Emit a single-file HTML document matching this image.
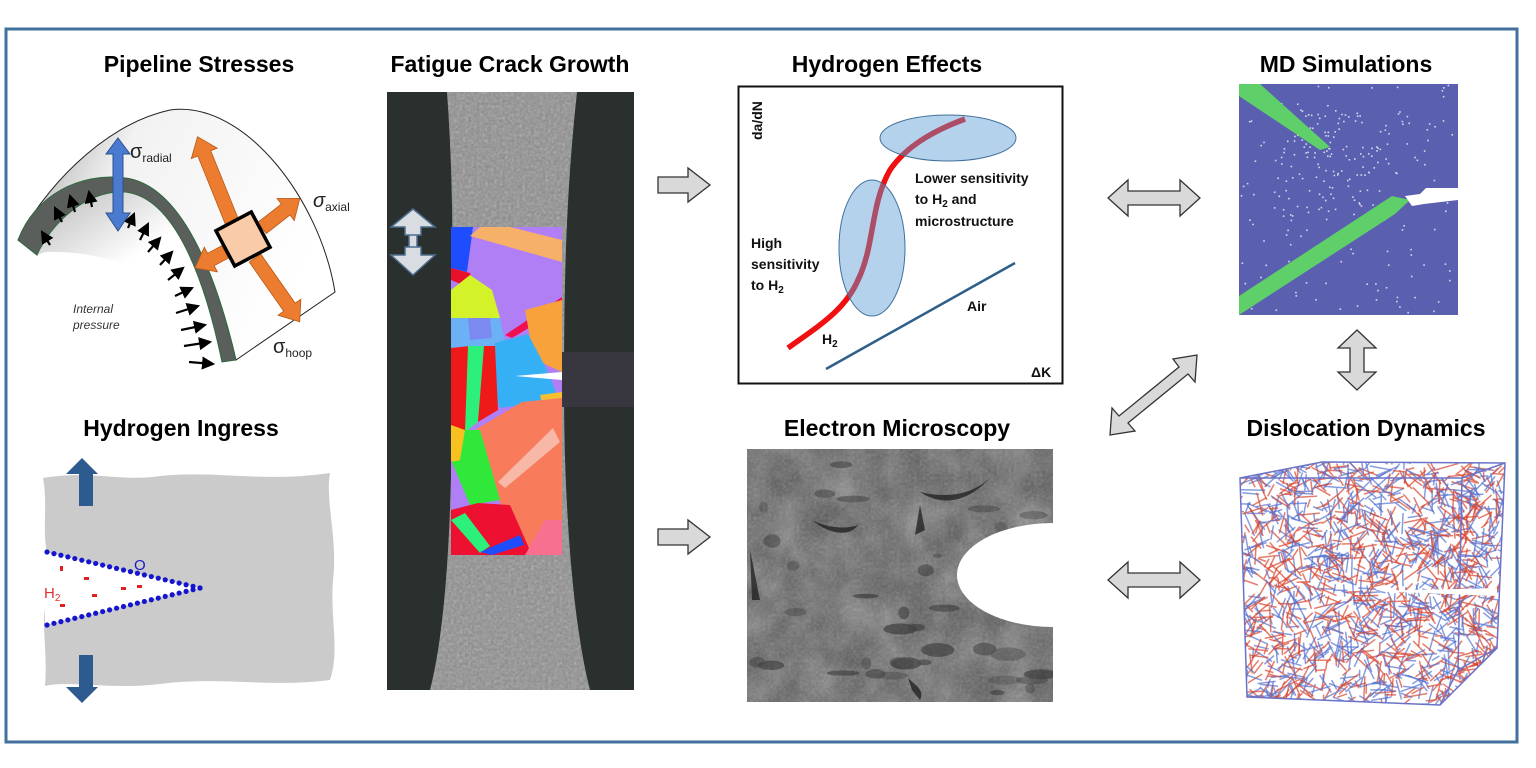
<!DOCTYPE html>
<html><head><meta charset="utf-8"><style>
html,body{margin:0;padding:0;background:#fff;}
svg{display:block;}
.t{font-family:"Liberation Sans",sans-serif;font-weight:bold;font-size:23px;fill:#000;text-anchor:middle;}
.s{font-family:"Liberation Sans",sans-serif;font-weight:bold;font-size:14px;fill:#111;}
</style></head><body>
<svg id="sv" width="1536" height="768" viewBox="0 0 1536 768" xmlns="http://www.w3.org/2000/svg">
<defs>
<linearGradient id="pg" x1="0" y1="0" x2="1" y2="0.4"><stop offset="0" stop-color="#9a9a9a"/><stop offset="0.35" stop-color="#f2f2f2"/><stop offset="1" stop-color="#ffffff"/></linearGradient>
<linearGradient id="ig" x1="0" y1="0" x2="1" y2="1"><stop offset="0" stop-color="#8a8a8a"/><stop offset="0.6" stop-color="#fff"/></linearGradient>
<marker id="ah" markerWidth="6" markerHeight="6" refX="5" refY="3" orient="auto"><path d="M0,0 L6,3 L0,6 Z" fill="#000"/></marker>
<filter id="nz"><feTurbulence type="fractalNoise" baseFrequency="0.35" numOctaves="2" seed="3"/><feColorMatrix type="saturate" values="0"/></filter>
<filter id="nz2"><feTurbulence type="fractalNoise" baseFrequency="0.03" numOctaves="4" seed="7"/><feColorMatrix type="saturate" values="0"/></filter>
<clipPath id="emc"><rect x="747" y="449" width="306" height="253"/></clipPath>
<clipPath id="neck"><path d="M447,92 C455,200 452,300 452,390 C452,500 448,620 430,690 L590,690 C572,620 564,500 564,390 C564,300 565,200 577,92 Z"/></clipPath>
<clipPath id="mdc"><rect x="1239" y="84" width="219" height="231"/></clipPath>
<clipPath id="ddc"><path d="M1240,478 L1322,462 L1505,463 L1497,648 L1440,705 L1247,697 Z"/></clipPath>
<path id="oa" d="M0,-7 L-18,-7 L-18,-14 L0,0 L-18,14 L-18,7 L0,7 Z"/>
</defs>
<rect x="6" y="29" width="1511" height="713" fill="none" stroke="#41719c" stroke-width="3"/>

<text class="t" x="199" y="72">Pipeline Stresses</text>
<text class="t" x="510" y="72">Fatigue Crack Growth</text>
<text class="t" x="887" y="72">Hydrogen Effects</text>
<text class="t" x="1346" y="72">MD Simulations</text>
<text class="t" x="181" y="436">Hydrogen Ingress</text>
<text class="t" x="897" y="436">Electron Microscopy</text>
<text class="t" x="1366" y="436">Dislocation Dynamics</text>

<!-- Pipeline -->
<path d="M18,240 C40,195 100,125 170,110 C245,100 320,200 335,292 L236,360 C215,270 180,185 125,178 C80,175 45,215 37,255 Z" fill="url(#pg)" stroke="#222" stroke-width="1"/>
<path d="M37,255 C50,220 85,192 125,192 C165,195 190,230 200,260 L200,300 C150,270 100,250 45,252 Z" fill="url(#ig)" opacity="0.6"/>
<path d="M18,240 C35,195 80,172 125,178 C180,185 215,270 236,360 L222,362 C205,280 175,197 125,192 C85,190 50,225 37,255 Z" fill="#5b5f5c" stroke="#2d6b3e" stroke-width="1"/>
<g stroke="#000" stroke-width="2.2" marker-end="url(#ah)">
<line x1="50" y1="245" x2="42" y2="232"/><line x1="62" y1="222" x2="55" y2="208"/><line x1="75" y1="212" x2="70" y2="196"/><line x1="92" y1="207" x2="89" y2="192"/>
<line x1="128" y1="228" x2="134" y2="214"/><line x1="140" y1="240" x2="148" y2="224"/><line x1="148" y1="252" x2="160" y2="238"/><line x1="160" y1="265" x2="172" y2="252"/><line x1="168" y1="280" x2="183" y2="268"/><line x1="175" y1="296" x2="192" y2="288"/><line x1="176" y1="313" x2="198" y2="306"/><line x1="181" y1="330" x2="205" y2="325"/><line x1="184" y1="346" x2="210" y2="342"/><line x1="189" y1="362" x2="213" y2="364"/>
</g>
<path d="M118,138 L130,154 L123,154 L123,213 L130,213 L118,231 L106,213 L113,213 L113,154 L106,154 Z" fill="#4a7bd0" stroke="#2d4f8f"/>
<g fill="#ec7c30" stroke="#b85a17" stroke-width="0.8">
<path d="M0,-7 L-74,-7 L-74,-14 L-92,0 L-74,14 L-74,7 L0,7 Z" transform="translate(232,222) rotate(68)" />
<path d="M0,-7 L30,-7 L30,-14 L48,0 L30,14 L30,7 L0,7 Z" transform="translate(262,228) rotate(-38)"/>
<path d="M0,-7 L16,-7 L16,-14 L34,0 L16,14 L16,7 L0,7 Z" transform="translate(225,252) rotate(152)"/>
<path d="M0,-7 L60,-7 L60,-14 L78,0 L60,14 L60,7 L0,7 Z" transform="translate(255,258) rotate(55)"/>
</g>
<g transform="translate(243,239) rotate(-28)"><rect x="-20" y="-20" width="40" height="40" fill="#f9cba8" stroke="#000" stroke-width="3.5"/></g>
<text x="130" y="158" font-family="Liberation Sans,sans-serif" font-size="20" fill="#222">σ<tspan font-size="12" dy="4">radial</tspan></text>
<text x="313" y="207" font-family="Liberation Sans,sans-serif" font-size="20" font-style="italic" fill="#222">σ<tspan font-size="12" dy="4" font-style="normal">axial</tspan></text>
<text x="273" y="353" font-family="Liberation Sans,sans-serif" font-size="20" fill="#222">σ<tspan font-size="12" dy="4">hoop</tspan></text>
<text x="73" y="313" font-family="Liberation Sans,sans-serif" font-size="12" font-style="italic" fill="#333">Internal</text>
<text x="73" y="329" font-family="Liberation Sans,sans-serif" font-size="12" font-style="italic" fill="#333">pressure</text>

<!-- Hydrogen ingress -->
<path d="M43,478 C90,470 120,482 160,476 C220,470 260,483 330,473 C325,500 338,540 333,580 C330,620 340,650 330,680 C270,688 220,676 160,684 C110,690 70,680 45,686 C48,650 40,620 47,600 L47,552 C42,530 48,505 43,478 Z" fill="#cbcbcb"/>
<path d="M45,552 L200,588 L45,625 Z" fill="#fff"/>
<g id="dots"></g>
<path d="M82,458 L98,474 L93,474 L93,506 L79,506 L79,474 L66,474 Z" fill="#2e5b8f"/>
<path d="M82,703 L98,687 L93,687 L93,655 L79,655 L79,687 L66,687 Z" fill="#2e5b8f"/>
<text x="134" y="570" font-family="Liberation Sans,sans-serif" font-size="15" fill="#1818c8">O</text>
<text x="44" y="598" font-family="Liberation Sans,sans-serif" font-size="15" fill="#e03030">H<tspan font-size="10" dy="3">2</tspan></text>
<g fill="#e02020"><rect x="60" y="566" width="3" height="5"/><rect x="84" y="577" width="5" height="3"/><rect x="92" y="594" width="5" height="3"/><rect x="60" y="604" width="5" height="3"/><rect x="121" y="587" width="5" height="3"/><rect x="137" y="585" width="5" height="3"/></g>

<!-- Fatigue specimen -->
<rect x="387" y="92" width="247" height="598" fill="#2a302d"/>
<g clip-path="url(#neck)"><rect x="420" y="92" width="180" height="598" fill="#8d8d8d"/><rect x="420" y="92" width="180" height="598" filter="url(#nz)" opacity="0.55"/></g>
<g>
<rect x="451" y="227" width="111" height="328" fill="#b07ff5"/>
<polygon points="451,227 473,227 467,272 451,268" fill="#1e4dff"/>
<polygon points="480,227 562,227 562,262 470,236" fill="#f7b068"/>
<polygon points="510,227 562,227 562,240" fill="#b07ff5"/>
<polygon points="451,268 470,273 475,290 451,280" fill="#e8102a"/>
<polygon points="451,290 470,275 492,290 500,318 451,320" fill="#d4f22a"/>
<polygon points="451,318 500,318 506,345 451,348" fill="#6cb0f5"/>
<polygon points="468,318 490,318 492,338 470,340" fill="#7a8af0"/>
<polygon points="505,335 562,297 562,308 512,338" fill="#f01050"/>
<polygon points="525,310 562,300 562,372 540,362 530,338" fill="#f7a23a"/>
<polygon points="495,343 528,334 546,368 556,392 540,402 500,408 488,380" fill="#36b0f5"/>
<polygon points="451,348 470,346 468,432 451,432" fill="#ee1a1a"/>
<polygon points="468,346 484,346 478,422 465,432" fill="#2df07a"/>
<polygon points="484,346 495,346 498,410 478,422" fill="#ee1a1a"/>
<polygon points="540,395 562,392 562,445 548,430" fill="#f8c030"/>
<polygon points="475,430 522,402 562,398 562,555 525,555 500,502 485,470" fill="#f87c5c"/>
<polygon points="498,482 553,428 560,442 505,488" fill="#f8b8a8"/>
<polygon points="465,430 480,430 500,500 470,505 451,480 451,450" fill="#30e83a"/>
<polygon points="451,425 465,430 460,460 451,462" fill="#f8c020"/>
<polygon points="451,460 470,505 451,512" fill="#b07ff5"/>
<polygon points="451,510 478,503 510,505 532,555 451,555" fill="#ee1030"/>
<polygon points="451,520 465,513 490,546 480,553" fill="#2df07a"/>
<polygon points="480,552 520,535 524,545 492,555" fill="#1e4dff"/>
<polygon points="525,555 545,520 562,520 562,555" fill="#f87090"/>
<path d="M515,376 L562,372 L562,380 Z" fill="#fff"/>
</g>
<rect x="562" y="352" width="72" height="55" fill="#38363f"/>
<path d="M413,209 L435,227 L421,227 L421,235 L409,235 L409,247 L421,247 L421,255 L435,255 L413,275 L391,255 L405,255 L405,247 L417,247 L417,235 L405,235 L405,227 L391,227 Z" fill="#d9dde2" stroke="#4d6d8f" stroke-width="1.5"/>

<!-- gray arrows -->
<g fill="#d9d9d9" stroke="#333" stroke-width="1.3">
<path d="M658,177 L688,177 L688,168 L710,185 L688,202 L688,193 L658,193 Z"/>
<path d="M658,529 L688,529 L688,520 L710,537 L688,554 L688,545 L658,545 Z"/>
<path d="M1108,198 L1128,180 L1128,191 L1180,191 L1180,180 L1200,198 L1180,216 L1180,205 L1128,205 L1128,216 Z"/>
<path d="M1108,580 L1128,562 L1128,573 L1180,573 L1180,562 L1200,580 L1180,598 L1180,587 L1128,587 L1128,598 Z"/>
<path d="M1357,330 L1376,348 L1364,348 L1364,372 L1376,372 L1357,390 L1338,372 L1350,372 L1350,348 L1338,348 Z"/>
<path d="M1110,435 L1112,408 L1119,416 L1179,367 L1173,359 L1197,355 L1195,382 L1188,374 L1128,423 L1135,431 Z"/>
</g>

<!-- Hydrogen effects graph -->
<rect x="738.5" y="86.5" width="324" height="297" fill="#fff" stroke="#111" stroke-width="2"/>
<text class="s" transform="translate(762,140) rotate(-90)" font-size="15">da/dN</text>
<path d="M826,369 L1015,263" stroke="#2e5f8a" stroke-width="2.5" fill="none"/>
<path d="M788,348 C820,325 845,310 858,280 C875,245 870,205 890,170 C905,148 930,132 965,119" stroke="#f01010" stroke-width="5.5" fill="none"/>
<ellipse cx="948" cy="138" rx="68" ry="23" fill="#5b9bd5" fill-opacity="0.45" stroke="#41719c"/>
<ellipse cx="872" cy="248" rx="33" ry="68" fill="#5b9bd5" fill-opacity="0.45" stroke="#41719c"/>
<text class="s" x="915" y="183">Lower sensitivity</text>
<text class="s" x="915" y="204">to H<tspan font-size="10" dy="3">2</tspan><tspan dy="-3"> and</tspan></text>
<text class="s" x="915" y="226">microstructure</text>
<text class="s" x="751" y="248">High</text>
<text class="s" x="751" y="269">sensitivity</text>
<text class="s" x="751" y="290">to H<tspan font-size="10" dy="3">2</tspan></text>
<text class="s" x="822" y="344">H<tspan font-size="10" dy="3">2</tspan></text>
<text class="s" x="967" y="311">Air</text>
<text class="s" x="1031" y="377" font-size="15">ΔK</text>

<!-- EM -->
<g clip-path="url(#emc)">
<rect x="747" y="449" width="306" height="253" fill="#555"/>
<rect x="747" y="449" width="306" height="253" filter="url(#nz2)" opacity="0.55"/>
<rect x="747" y="449" width="306" height="253" filter="url(#nz)" opacity="0.3"/>
<g id="emdark" fill="#222" opacity="0.55"></g>
<g fill="#1e1e1e" opacity="0.75"><path d="M812,520 C830,535 850,537 858,525 C845,530 825,527 812,520Z" /><path d="M920,492 C940,505 965,505 990,478 C970,496 945,498 920,492Z"/><path d="M920,505 L925,530 L915,535Z"/><path d="M908,678 C915,685 925,690 920,700 L912,690Z"/><path d="M750,550 L760,600 L752,600Z"/></g>
<ellipse cx="1053" cy="575" rx="96" ry="52" fill="#fff"/>
</g>

<!-- MD -->
<g clip-path="url(#mdc)">
<rect x="1239" y="84" width="219" height="231" fill="#5a5fb0"/>
<g id="mdspeck"></g>
<path d="M1239,84 L1260,84 L1330,147 L1320,150 L1239,96 Z" fill="#5fcf6a"/>
<path d="M1239,296 L1392,196 L1410,200 L1395,214 L1239,315 Z" fill="#5fcf6a"/>
<path d="M1405,196 L1420,194 L1426,188 L1458,188 L1458,200 L1424,204 L1412,206 Z" fill="#fff"/>
</g>

<!-- DD -->
<g id="dd" clip-path="url(#ddc)"></g>
<g fill="none" stroke="#6a73c8" stroke-width="1.5">
<path d="M1240,478 L1322,462 L1505,463 L1497,648 L1440,705 L1247,697 Z"/>
<path d="M1240,478 L1462,478 L1505,463 M1462,478 L1458,670 L1440,705 M1458,670 L1497,648"/>
</g>
<path d="M1372,591 L1497,588 L1497,596 Z" fill="#fff"/>
</svg>
<script>
(function(){
var s=12345;function r(){s=(s*16807)%2147483647;return s/2147483647;}
var NS="http://www.w3.org/2000/svg";
function add(p,tag,at){var e=document.createElementNS(NS,tag);for(var k in at)e.setAttribute(k,at[k]);p.appendChild(e);return e;}
var d=document.getElementById("dots");
for(var i=0;i<=22;i++){var t=i/22;add(d,"circle",{cx:47+t*153,cy:552+t*36,r:2.6,fill:"#1515d0"});add(d,"circle",{cx:47+t*153,cy:625-t*37,r:2.6,fill:"#1515d0"});}
var m=document.getElementById("mdspeck");
for(var i=0;i<260;i++){var x=1239+r()*219,y=84+r()*231;if(r()<0.5){x=1280+r()*110;y=110+r()*110;}add(m,"rect",{x:x,y:y,width:1.6,height:1.6,fill:"#d8d8e8"});}
var em=document.getElementById("emdark");
for(var i=0;i<40;i++){add(em,"ellipse",{cx:750+r()*300,cy:452+r()*248,rx:4+r()*14,ry:2+r()*5,transform:"rotate(0)",opacity:0.4+r()*0.5});}
var g=document.getElementById("dd");
for(var i=0;i<1600;i++){var x=1240+r()*265,y=462+r()*243;var a=r()*Math.PI*2,L=8+r()*18;var c=r()<0.5?"#d9452e":"#5572d0";add(g,"line",{x1:x,y1:y,x2:x+Math.cos(a)*L,y2:y+Math.sin(a)*L,stroke:c,"stroke-width":1.5,"stroke-opacity":0.7});}
})();
</script>
</body></html>
